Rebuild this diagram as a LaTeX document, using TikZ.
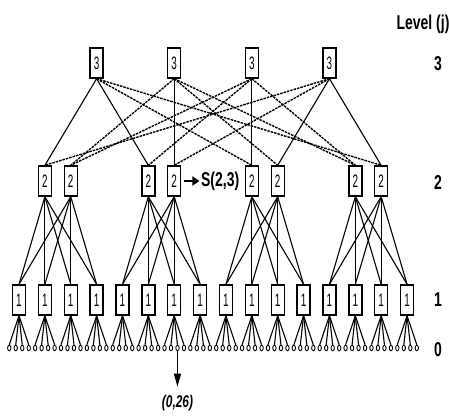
\documentclass[tikz,border=0pt]{standalone}
\usepackage{fontspec}
\setmainfont{Liberation Sans}
\newfontfamily\narrowfont[FakeStretch=0.7]{Liberation Sans}
\newfontfamily\boxfont[FakeStretch=0.55]{Liberation Sans}
\usetikzlibrary{positioning,shapes.geometric,arrows.meta}
\begin{document}
\begin{tikzpicture}[x=1pt,y=-1pt,
  sw/.style={draw,line width=1.4pt,fill=white,minimum width=13pt,minimum height=30pt,inner sep=0pt,font=\boxfont\fontsize{18}{18}\selectfont},
  host/.style={draw,ellipse,line width=0.9pt,minimum width=3.4pt,minimum height=5.5pt,inner sep=0pt},
  link/.style={line width=1.1pt},
  cross/.style={line width=1.4pt,dash pattern=on 2.5pt off 1pt},
  lvl/.style={font=\narrowfont\bfseries\fontsize{20}{20}\selectfont,inner sep=0pt}]

\useasboundingbox (0,0) rectangle (449,419);

% level 1 switches and hosts
\foreach \i in {1,...,16}
{
    \pgfmathsetmacro\xx{19+25.87*(\i-1)}
    \node[sw] (e\i) at (\xx,300) {1};
    \foreach \k in {1,...,4}
    {
        \pgfmathtruncatemacro\hn{4*(\i-1)+\k}
        \node[host] (h\hn) at ({\xx+6.5*\k-16.25},348) {};
        \draw[link] (e\i.south) -- (h\hn.north);
    }
}

% level 2 switches
\foreach \a/\i in {1/2,2/3,3/6,4/7,5/10,6/11,7/14,8/15}
{
    \pgfmathsetmacro\xx{19+25.87*(\i-1)}
    \node[sw] (a\a) at (\xx,181) {2};
}
\foreach \p in {0,...,3}
{
    \foreach \m in {1,2}
    {
        \foreach \k in {1,...,4}
        {
            \pgfmathtruncatemacro\an{2*\p+\m}
            \pgfmathtruncatemacro\en{4*\p+\k}
            \draw[link] (a\an.south) -- (e\en.north);
        }
    }
}

% level 3 switches
\foreach \c/\i in {1/4,2/7,3/10,4/13}
{
    \pgfmathsetmacro\xx{19+25.87*(\i-1)}
    \node[sw] (c\c) at (\xx,63) {3};
}
\foreach \c/\a in {1/1,1/3,2/4,3/5,4/6,4/8}
    \draw[link] (c\c.south) -- (a\a.north);
\foreach \c/\a in {1/5,1/8,2/2,2/6,2/7,3/2,3/3,3/7,4/1,4/4}
    \draw[cross] (c\c.south) -- (a\a.north);

% level labels
\node[lvl] (lj) at (423,24) {Level (j)};
\node[lvl] (l3) at (438,64) {3};
\node[lvl] (l2) at (438,183) {2};
\node[lvl] (l1) at (438,300) {1};
\node[lvl] (l0) at (438,350) {0};

% marked switch and host
\node[lvl,right=19.5pt of a4] (s23) {S(2,3)};
\draw[-{Triangle[length=7pt,width=9pt]},line width=2.4pt] ([xshift=2.5pt]a4.east) -- ([xshift=-1.5pt]s23.west);
\coordinate[below=35.5pt of h27] (tip);
\draw[link,-{Triangle[length=13pt,width=7pt]}] (h27.south) -- (tip);
\node[lvl,below=8pt of tip,font=\narrowfont\bfseries\itshape\fontsize{17}{17}\selectfont] (p026) {(0,26)};

\end{tikzpicture}
\end{document}
